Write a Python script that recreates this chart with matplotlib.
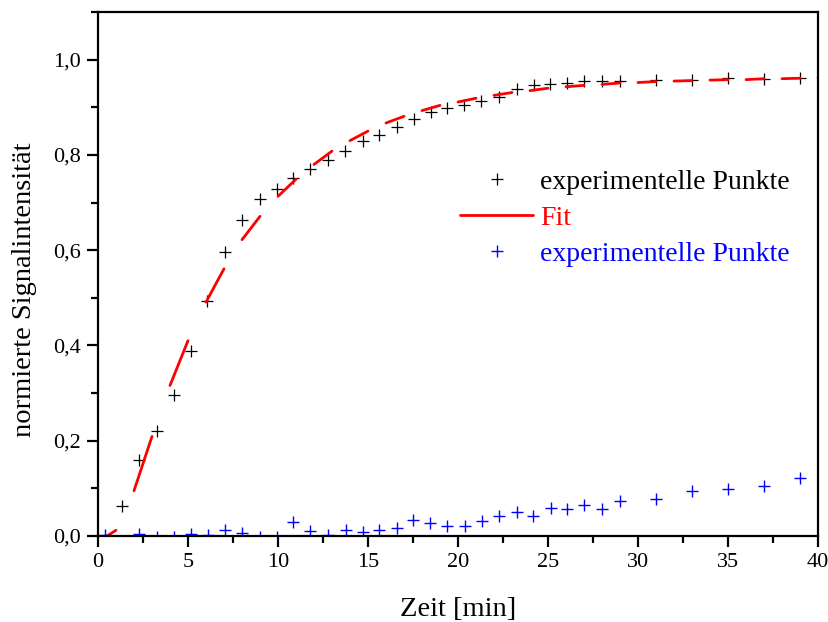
import numpy as np
import matplotlib
matplotlib.use("Agg")
import matplotlib.pyplot as plt
from matplotlib.ticker import MultipleLocator, FuncFormatter

# experimentelle Punkte (schwarz)
t_schwarz = [1.35, 2.3, 3.28, 4.22, 5.15, 6.08, 7.06, 8.02, 8.98, 9.92, 10.86, 11.8,
             12.8, 13.73, 14.7, 15.63, 16.6, 17.55, 18.48, 19.37, 20.33, 21.3, 22.3,
             23.26, 24.2, 25.1, 26.04, 27.0, 28.0, 29.0, 31.0, 33.0, 35.0, 37.0, 39.0]
y_schwarz = [0.064, 0.160, 0.221, 0.297, 0.388, 0.494, 0.597, 0.664, 0.708, 0.729,
             0.751, 0.771, 0.790, 0.809, 0.830, 0.842, 0.858, 0.875, 0.890, 0.898,
             0.905, 0.913, 0.921, 0.938, 0.947, 0.949, 0.952, 0.955, 0.955, 0.955,
             0.957, 0.958, 0.961, 0.960, 0.962]

# experimentelle Punkte (blau)
t_blau = [0.4, 2.3, 3.26, 4.2, 5.17, 6.1, 7.06, 8.02, 9.0, 9.93, 10.85, 11.8, 12.8,
          13.76, 14.7, 15.63, 16.6, 17.52, 18.44, 19.4, 20.4, 21.35, 22.3, 23.26,
          24.18, 25.15, 26.07, 27.0, 27.98, 29.0, 31.0, 33.0, 35.0, 37.0, 39.0]
y_blau = [0.002, 0.004, -0.002, -0.002, 0.004, 0.002, 0.013, 0.007, -0.003, -0.002,
          0.029, 0.011, 0.002, 0.013, 0.008, 0.013, 0.016, 0.034, 0.027, 0.020,
          0.022, 0.032, 0.041, 0.051, 0.041, 0.059, 0.057, 0.066, 0.056, 0.074,
          0.078, 0.095, 0.099, 0.104, 0.122]

t_fit = list(range(41))
y_fit = [-0.012, 0.012, 0.095, 0.209, 0.316, 0.410, 0.491, 0.561, 0.622, 0.671,
         0.713, 0.749, 0.780, 0.808, 0.830, 0.850, 0.867, 0.881, 0.893, 0.904,
         0.911, 0.919, 0.925, 0.931, 0.935, 0.940, 0.943, 0.946, 0.948, 0.951,
         0.952, 0.954, 0.955, 0.956, 0.957, 0.958, 0.958, 0.960, 0.960, 0.961, 0.962]

plt.rcParams["font.family"] = ["Liberation Serif", "DejaVu Serif"]

fig = plt.figure(figsize=(8.29, 6.22), dpi=100)
ax = fig.add_axes([98 / 829, 86 / 622, 720 / 829, 524 / 622])

# jedes zweite Segment zeichnen (gestrichelt wie im Original)
xs, ys = [], []
for i in range(0, len(t_fit) - 1, 2):
    xs += [t_fit[i], t_fit[i + 1], np.nan]
    ys += [y_fit[i], y_fit[i + 1], np.nan]
xs += [t_fit[-1], t_fit[-1] + 0.05]
ys += [y_fit[-1], y_fit[-1]]

h1, = ax.plot(t_schwarz, y_schwarz, "+", color="black", ms=8, mew=0.9,
              label="experimentelle Punkte")
h2, = ax.plot(xs, ys, "-", color="#ff0000", lw=2.0, solid_capstyle="round",
              label="Fit")
h3, = ax.plot(t_blau, y_blau, "+", color="#0000ff", ms=9, mew=1.0,
              label="experimentelle Punkte")

ax.set_xlim(0, 40)
ax.set_ylim(0, 1.1)
ax.xaxis.set_major_locator(MultipleLocator(5))
ax.xaxis.set_minor_locator(MultipleLocator(2.5))
ax.yaxis.set_major_locator(MultipleLocator(0.2))
ax.yaxis.set_minor_locator(MultipleLocator(0.1))
ax.yaxis.set_major_formatter(FuncFormatter(lambda v, p: f"{v:.1f}".replace(".", ",")))

ax.tick_params(which="both", direction="out", width=1.6, labelsize=16, top=False, right=False)
ax.tick_params(which="major", length=8, pad=4)
ax.tick_params(which="minor", length=5)
for s in ax.spines.values():
    s.set_linewidth(1.6)

ax.set_xlabel("Zeit [min]", fontsize=20.5, labelpad=18)
ax.set_ylabel("normierte Signalintensität", fontsize=20.5)
ax.yaxis.set_label_coords(-0.085, 0.47)

ax.legend(handles=[h1, h2, h3], loc="upper left", bbox_to_anchor=(0.503, 0.70),
          frameon=False, fontsize=20, labelcolor="linecolor", handlelength=2.63,
          handletextpad=0.25, labelspacing=0.38, borderpad=0, borderaxespad=0)

fig.savefig("out.png", dpi=100)
